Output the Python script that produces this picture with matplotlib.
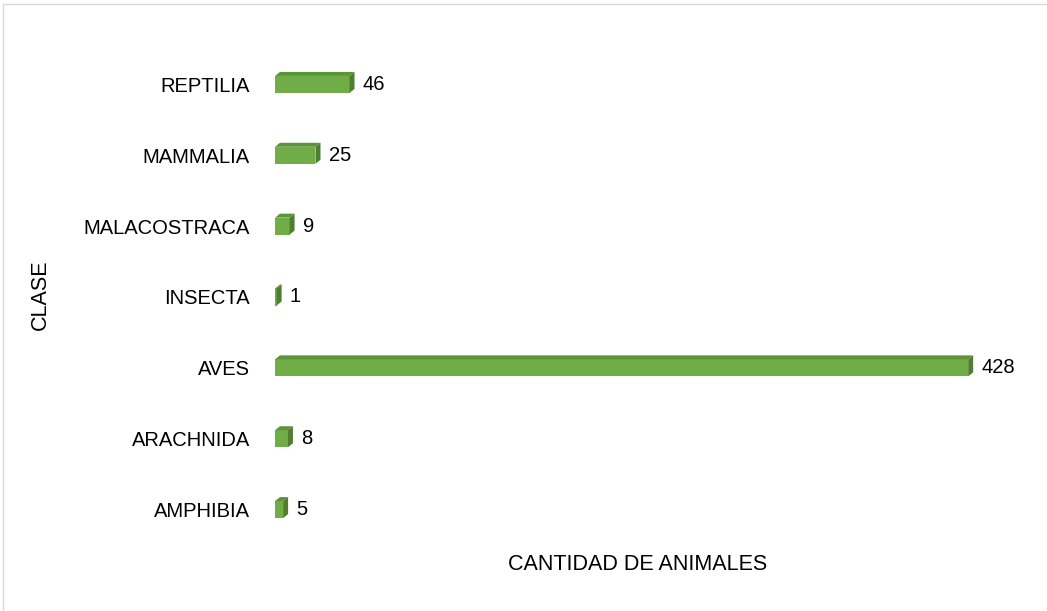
import matplotlib
matplotlib.use("Agg")
import matplotlib.pyplot as plt
from matplotlib.patches import Polygon
from matplotlib.lines import Line2D

categories = ["AMPHIBIA", "ARACHNIDA", "AVES", "INSECTA", "MALACOSTRACA", "MAMMALIA", "REPTILIA"]
values = [5, 8, 428, 1, 9, 25, 46]

FONT = ["Liberation Sans Narrow", "Liberation Sans", "DejaVu Sans"]
plt.rcParams["font.family"] = FONT

W, H = 1047, 611
fig = plt.figure(figsize=(W / 100, H / 100), dpi=100)
ax = fig.add_axes([275 / W, 1 - 545 / H, 745 / W, 496 / H])
ax.set_xlim(0, 460)
ax.set_ylim(-0.5, len(categories) - 0.5)

front = "#70AD47"
top = "#5E9439"
side = "#4F7E30"
bar_h = 0.24

# depth in data units derived from pixel offsets
fig.canvas.draw()
inv = ax.transData.inverted()
p0 = inv.transform(ax.transData.transform((0, 0)))
p1 = inv.transform(ax.transData.transform((0, 0)) + [5, 4])
dx, dy = p1[0] - p0[0], p1[1] - p0[1]

ypos = list(range(len(categories)))
ax.barh(ypos, values, height=bar_h, color=front, edgecolor="none", zorder=3)
for y, v in zip(ypos, values):
    y0, y1 = y - bar_h / 2, y + bar_h / 2
    ax.add_patch(Polygon([(0, y1), (v, y1), (v + dx, y1 + dy), (dx, y1 + dy)],
                         closed=True, color=top, lw=0, zorder=3))
    ax.add_patch(Polygon([(v, y0), (v + dx, y0 + dy), (v + dx, y1 + dy), (v, y1)],
                         closed=True, color=side, lw=0, zorder=3))
    ax.annotate(str(v), xy=(v + dx, y), xytext=(6, 0), textcoords="offset points",
                va="center", ha="left", fontsize=14.5, color="black")

ax.set_yticks(ypos)
ax.set_yticklabels(categories, fontsize=14.5)
ax.tick_params(axis="y", length=0, pad=18)
ax.set_xticks([])
for s in ax.spines.values():
    s.set_visible(False)

fig.text(638 / W, 1 - 565 / H, "CANTIDAD DE ANIMALES", ha="center", va="center", fontsize=15.5)
fig.text(40 / W, 1 - 295 / H, "CLASE", ha="center", va="center", rotation=90, fontsize=15.5)

# outer border
fig.add_artist(Line2D([3 / W, 1], [1 - 4 / H, 1 - 4 / H], transform=fig.transFigure, color="#D9D9D9", lw=1))
fig.add_artist(Line2D([3 / W, 3 / W], [0, 1 - 4 / H], transform=fig.transFigure, color="#D9D9D9", lw=1))

fig.savefig("out.png", dpi=100)
